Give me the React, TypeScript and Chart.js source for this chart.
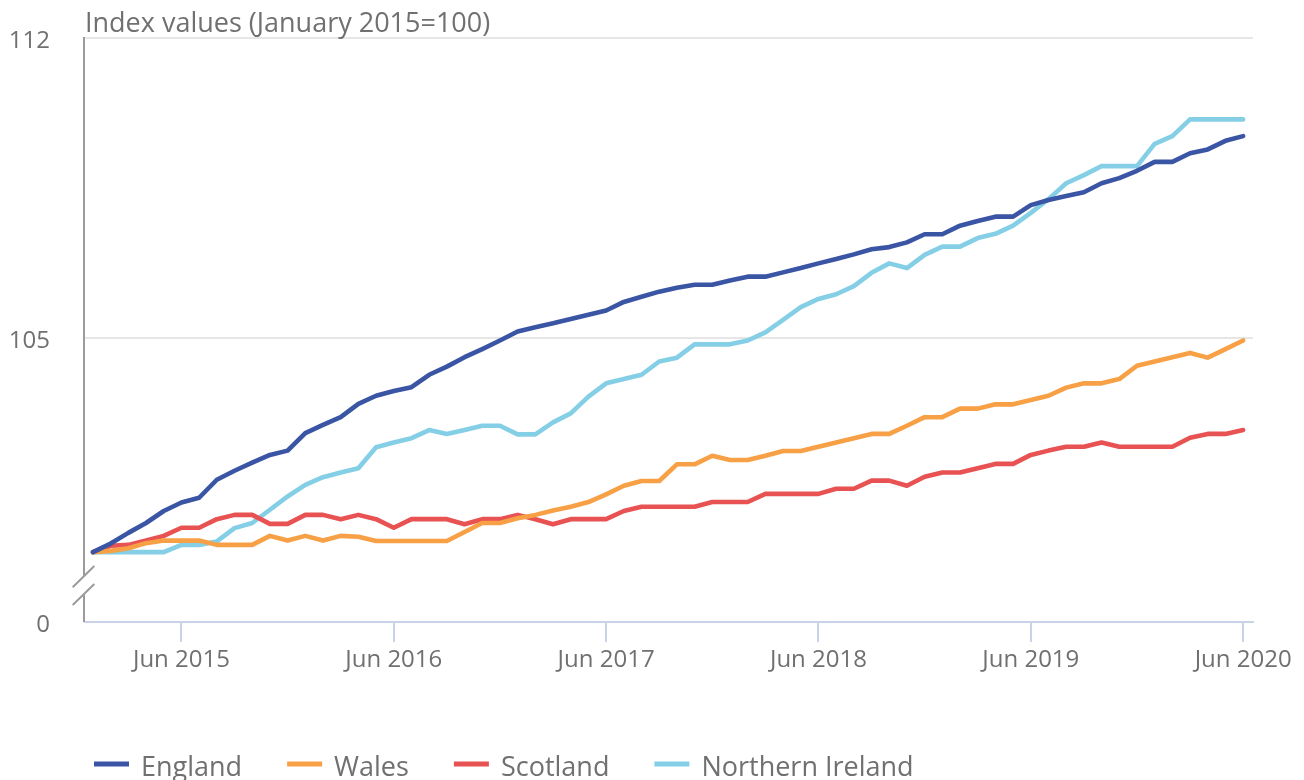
import React, { useEffect, useRef } from 'react';
import { Chart, registerables } from 'chart.js';

Chart.register(...registerables);

// ---- Data (index values, January 2015 = 100), monthly Jan 2015 .. Jun 2020 ----
const seriesNames = ['England', 'Wales', 'Scotland', 'Northern Ireland'];
const seriesColors = ['#3b55a5', '#f8a046', '#e85252', '#84cfe6'];

const england = [
  100.0, 100.2, 100.45, 100.68, 100.96, 101.16, 101.27, 101.69, 101.9, 102.09,
  102.27, 102.37, 102.78, 102.97, 103.15, 103.46, 103.65, 103.76, 103.85, 104.14,
  104.33, 104.55, 104.74, 104.94, 105.15, 105.25, 105.34, 105.44, 105.54, 105.64,
  105.84, 105.96, 106.08, 106.17, 106.24, 106.24, 106.34, 106.43, 106.43, 106.53,
  106.63, 106.74, 106.84, 106.95, 107.07, 107.12, 107.23, 107.42, 107.42, 107.62,
  107.73, 107.83, 107.83, 108.1, 108.22, 108.31, 108.4, 108.61, 108.73, 108.9,
  109.11, 109.11, 109.31, 109.4, 109.6, 109.71,
];

const wales = [
  100.0, 100.03, 100.09, 100.21, 100.27, 100.27, 100.27, 100.17, 100.17, 100.17,
  100.38, 100.27, 100.38, 100.27, 100.38, 100.36, 100.26, 100.26, 100.26, 100.26,
  100.26, 100.47, 100.68, 100.68, 100.79, 100.87, 100.97, 101.06, 101.17, 101.35,
  101.55, 101.66, 101.66, 102.05, 102.05, 102.25, 102.15, 102.15, 102.25, 102.36,
  102.36, 102.46, 102.56, 102.66, 102.76, 102.76, 102.95, 103.15, 103.15, 103.35,
  103.35, 103.45, 103.45, 103.55, 103.65, 103.84, 103.94, 103.94, 104.04, 104.35,
  104.45, 104.55, 104.65, 104.54, 104.74, 104.94,
];

const scotland = [
  100.0, 100.15, 100.17, 100.27, 100.38, 100.57, 100.57, 100.77, 100.87, 100.87,
  100.66, 100.66, 100.87, 100.87, 100.77, 100.87, 100.77, 100.57, 100.77, 100.77,
  100.77, 100.65, 100.77, 100.77, 100.87, 100.77, 100.65, 100.77, 100.77, 100.77,
  100.96, 101.06, 101.06, 101.06, 101.06, 101.17, 101.17, 101.17, 101.36, 101.36,
  101.36, 101.36, 101.48, 101.48, 101.67, 101.67, 101.55, 101.76, 101.86, 101.86,
  101.96, 102.06, 102.06, 102.27, 102.37, 102.46, 102.46, 102.56, 102.46, 102.46,
  102.46, 102.46, 102.67, 102.76, 102.76, 102.85,
];

const northernIreland = [
  100.0, 100.0, 100.0, 100.0, 100.0, 100.17, 100.17, 100.25, 100.56, 100.68,
  100.99, 101.3, 101.57, 101.75, 101.86, 101.96, 102.45, 102.56, 102.66, 102.85,
  102.76, 102.85, 102.95, 102.95, 102.75, 102.75, 103.03, 103.24, 103.63, 103.94,
  104.04, 104.14, 104.45, 104.54, 104.85, 104.85, 104.85, 104.94, 105.13, 105.42,
  105.72, 105.91, 106.02, 106.21, 106.52, 106.74, 106.63, 106.94, 107.13, 107.13,
  107.33, 107.43, 107.62, 107.92, 108.24, 108.61, 108.8, 109.01, 109.01, 109.01,
  109.53, 109.71, 110.1, 110.1, 110.1, 110.1,
];

const seriesValues = [england, wales, scotland, northernIreland];

// month index 0 = Jan 2015
const xTickMonths = [5, 17, 29, 41, 53, 65];
const xTickLabels = ['Jun 2015', 'Jun 2016', 'Jun 2017', 'Jun 2018', 'Jun 2019', 'Jun 2020'];

// the lowest tick sits at the axis break and is labelled "0"
const yTickValues = [98.37, 105, 112];
const yTickLabels = ['0', '105', '112'];

const axisTitle = 'Index values (January 2015=100)';

const FONT = '"Open Sans", "Noto Sans", sans-serif';
const TEXT = '#707070';

const overlayPlugin = {
  id: 'overlay',
  afterDraw(chart: any) {
    const { ctx, chartArea } = chart;
    const ax = chartArea.left - 1;
    const b = chartArea.bottom;
    ctx.save();

    // y axis line with break marks
    ctx.strokeStyle = '#9b9b9b';
    ctx.lineWidth = 2;
    ctx.lineCap = 'butt';
    ctx.beginPath();
    ctx.moveTo(ax, chartArea.top - 1);
    ctx.lineTo(ax, b - 45.8);
    ctx.moveTo(ax, b - 28);
    ctx.lineTo(ax, b);
    ctx.moveTo(ax - 11.3, b - 34.7);
    ctx.lineTo(ax + 10.3, b - 56);
    ctx.moveTo(ax - 11.3, b - 17);
    ctx.lineTo(ax + 10.3, b - 38);
    ctx.stroke();

    // axis title at top-left
    ctx.font = `27px ${FONT}`;
    ctx.fillStyle = TEXT;
    ctx.textAlign = 'left';
    ctx.textBaseline = 'alphabetic';
    ctx.fillText(axisTitle, chartArea.left, chartArea.top - 6);

    // legend
    let x = chartArea.left + 9;
    const base = chartArea.bottom + 154;
    chart.data.datasets.forEach((ds: any) => {
      ctx.strokeStyle = ds.borderColor;
      ctx.lineWidth = 5;
      ctx.beginPath();
      ctx.moveTo(x, base - 12);
      ctx.lineTo(x + 35, base - 12);
      ctx.stroke();
      x += 35 + 12;
      ctx.fillStyle = TEXT;
      ctx.fillText(ds.label, x, base);
      x += ctx.measureText(ds.label).width + 45;
    });

    ctx.restore();
  },
};

export default function App() {
  const canvasRef = useRef<HTMLCanvasElement | null>(null);

  useEffect(() => {
    const canvas = canvasRef.current;
    if (!canvas) return;
    const chart = new Chart(canvas, {
      type: 'line',
      data: {
        datasets: seriesNames.map((name, i) => ({
          label: name,
          data: seriesValues[i].map((v, m) => ({ x: m, y: v })),
          borderColor: seriesColors[i],
          backgroundColor: seriesColors[i],
          borderWidth: 4.6,
          pointRadius: 0,
          pointHoverRadius: 0,
          tension: 0,
          fill: false,
          borderJoinStyle: 'round',
          borderCapStyle: 'round',
        })),
      },
      options: {
        animation: false,
        responsive: false,
        layout: { padding: { top: 30, right: 43, left: 0, bottom: 116 } },
        plugins: {
          legend: { display: false },
          tooltip: { enabled: false },
          title: { display: false },
        },
        scales: {
          x: {
            type: 'linear',
            min: -0.45,
            max: 65.55,
            afterBuildTicks: (s: any) => {
              s.ticks = xTickMonths.map((v) => ({ value: v }));
            },
            afterFit: (s: any) => {
              s.height = 60;
            },
            ticks: {
              autoSkip: false,
              maxRotation: 0,
              minRotation: 0,
              padding: 4,
              color: TEXT,
              font: { family: FONT, size: 24 },
              callback: (_v: any, i: number) => xTickLabels[i],
            },
            grid: {
              drawOnChartArea: false,
              drawTicks: true,
              tickLength: 20,
              color: '#cad2ea',
              lineWidth: 2,
            },
            border: { display: true, color: '#cad2ea', width: 2 },
          },
          y: {
            type: 'linear',
            min: yTickValues[0],
            max: yTickValues[yTickValues.length - 1],
            afterBuildTicks: (s: any) => {
              s.ticks = yTickValues.map((v) => ({ value: v }));
            },
            afterFit: (s: any) => {
              s.width = 77;
              s.paddingTop = 0;
              s.paddingBottom = 0;
            },
            ticks: {
              padding: 35,
              labelOffset: 3,
              color: TEXT,
              font: { family: FONT, size: 24 },
              callback: (_v: any, i: number) => yTickLabels[i],
            },
            grid: {
              drawTicks: false,
              lineWidth: 2,
              color: (ctx: any) => (ctx.index === 0 ? 'rgba(0,0,0,0)' : '#e6e6e6'),
            },
            border: { display: false },
          },
        },
      } as any,
      plugins: [overlayPlugin],
    });
    return () => chart.destroy();
  }, []);

  return (
    <div style={{ width: 1288, height: 790, position: 'relative' }}>
      <style>{'html,body{overflow:hidden;}'}</style>
      <canvas ref={canvasRef} width={1288} height={790} style={{ display: 'block' }} />
    </div>
  );
}
